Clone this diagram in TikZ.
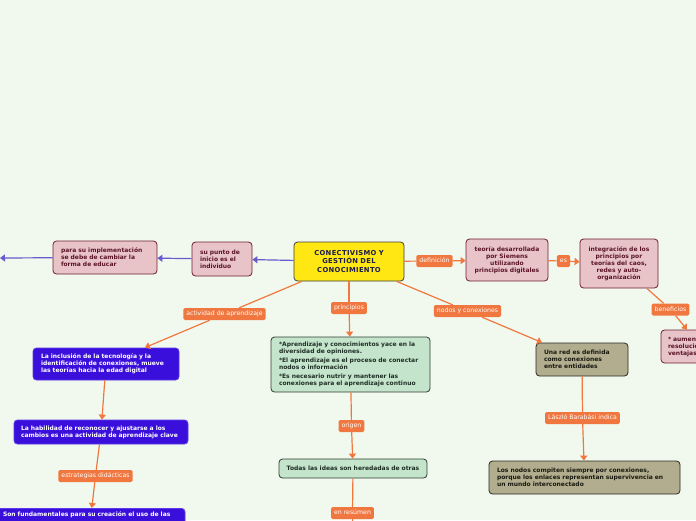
\documentclass[tikz,border=0pt]{standalone}
\usepackage{fontspec}
\setmainfont{DejaVu Sans}
\usetikzlibrary{arrows.meta}
\definecolor{bg}{HTML}{F1F9EE}
\definecolor{oc}{HTML}{F0773F}
\definecolor{bc}{HTML}{6A5ACD}
\definecolor{yl}{HTML}{FFE714}
\definecolor{ylb}{HTML}{3F3F3F}
\definecolor{ylt}{HTML}{1B1B4D}
\definecolor{pk}{HTML}{E8C4C9}
\definecolor{pkb}{HTML}{6E1F30}
\definecolor{pkt}{HTML}{5C1528}
\definecolor{bl}{HTML}{3A0FDB}
\definecolor{blb}{HTML}{5A3AE8}
\definecolor{gr}{HTML}{C4E4CB}
\definecolor{grb}{HTML}{2F3F33}
\definecolor{grt}{HTML}{1F2F25}
\definecolor{ol}{HTML}{B1AD8E}
\definecolor{olb}{HTML}{2A2A20}
\definecolor{olt}{HTML}{1A1A10}
\tikzset{
 lbl/.style={fill=oc, text=white, rounded corners=1.5pt, font=\fontsize{6.2}{7}\selectfont, inner xsep=3pt, inner ysep=0pt, minimum height=12pt, text height=4.6pt, text depth=1.4pt},
 box/.style={rounded corners=3.5pt, line width=0.8pt, font=\bfseries\fontsize{6}{7}\selectfont, inner xsep=8pt, inner ysep=3pt, align=left},
 cbox/.style={box, fill=yl, draw=ylb, text=ylt, align=center, font=\bfseries\fontsize{6.8}{8.5}\selectfont\addfontfeatures{LetterSpace=5}},
 pinkbox/.style={box, fill=pk, draw=pkb, text=pkt},
 bluebox/.style={box, fill=bl, draw=blb, text=white},
 greenbox/.style={box, fill=gr, draw=grb, text=grt},
 olivebox/.style={box, fill=ol, draw=olb, text=olt},
 oline/.style={draw=oc, line width=1.2pt},
 oarr/.style={oline, -{Triangle[width=7pt,length=5pt]}},
 barr/.style={draw=bc, line width=1.2pt, -{Triangle[width=7pt,length=5pt]}},
}
\begin{document}
\begin{tikzpicture}[x=1pt,y=-1pt]
\useasboundingbox (0,0) rectangle (696,520);
\clip (0,0) rectangle (696,520);
\fill[bg] (0,0) rectangle (696,520);

% main nodes
\node[cbox, minimum width=110pt, minimum height=39pt, text width=100pt, inner xsep=5pt] (c) at (349,261.5) {CONECTIVISMO Y\\GESTIÓN DEL\\CONOCIMIENTO};
\node[pinkbox, minimum height=34pt, text width=44pt] (punto) at (222,259) {su punto de\\inicio es el\\individuo};
\node[pinkbox, minimum height=33pt, text width=88pt] (para) at (105,257.5) {para su implementación\\se debe de cambiar la\\forma de educar};
\coordinate (left) at (0,258);
\node[pinkbox, align=center, minimum height=42pt, text width=72pt, inner xsep=5pt] (teoria) at (507,260) {teoría desarrollada\\por Siemens\\utilizando\\principios digitales};
\node[pinkbox, align=center, minimum height=49pt, text width=68pt, inner xsep=5pt] (integ) at (619,263.5) {integración de los\\principios por\\teorías del caos,\\redes y auto-\\organización};
\node[pinkbox, minimum height=33pt, text width=66pt, inner xsep=7pt] (aumen) at (701,346.5) {* aumento\\* resolución\\* ventajas};

\node[bluebox, minimum height=32pt, text width=130pt] (blue1) at (106,364) {La inclusión de la tecnología y la\\identificación de conexiones, mueve\\las teorías hacia la edad digital};
\node[bluebox, minimum height=24pt, text width=160pt, inner xsep=7pt] (blue2) at (101,432) {La habilidad de reconocer y ajustarse a los\\cambios es una actividad de aprendizaje clave};
\node[bluebox, anchor=north, text width=174pt, inner ysep=3.5pt, text depth=18pt] (blue3) at (90,508) {Son fundamentales para su creación el uso de las};

\node[greenbox, minimum height=55pt, text width=143pt] (green1) at (350.5,364.5) {*Aprendizaje y conocimientos yace en la\\diversidad de opiniones.\\[1.8pt]*El aprendizaje es el proceso de conectar\\nodos o información\\[1.8pt]*Es necesario nutrir y mantener las\\conexiones para el aprendizaje continuo};
\node[greenbox, align=center, minimum height=19pt, text width=138pt, inner xsep=5pt] (green2) at (353,468.5) {Todas las ideas son heredadas de otras};
\coordinate (down) at (353,545);

\node[olivebox, minimum height=33pt, text width=76pt] (olive1) at (582,359.5) {Una red es definida\\como conexiones\\entre entidades};
\node[olivebox, minimum height=33pt, text width=175pt] (olive2) at (584.5,477.5) {Los nodos compiten siempre por conexiones,\\porque los enlaces representan supervivencia en\\un mundo interconectado};

% labels
\node[lbl] (def) at (434.5,261) {definición};
\node[lbl] (es) at (563.5,261) {es};
\node[lbl] (benef) at (670.5,309.5) {beneficios};
\node[lbl] (act) at (224.5,314) {actividad de aprendizaje};
\node[lbl] (estr) at (95.5,476) {estrategias didácticas};
\node[lbl] (princ) at (349,308) {principios};
\node[lbl] (orig) at (351.5,426) {origen};
\node[lbl] (enres) at (352.5,513) {en resúmen};
\node[lbl] (nod) at (467.5,311) {nodos y conexiones};
\node[lbl] (lasz) at (582.5,418) {László Barabási indica};

% connectors
\draw[barr] (c) -- (punto);
\draw[barr] (punto) -- (para);
\draw[barr] (para) -- (left);

\draw[oline] (c) -- (def);
\draw[oarr] (def) -- (teoria);
\draw[oline] (teoria) -- (es);
\draw[oarr] (es) -- (integ);
\draw[oline] (integ) -- (benef);
\draw[oarr] (benef) -- (aumen);

\draw[oline] (c) -- (act);
\draw[oarr] (act) -- (blue1);
\draw[oarr] (blue1) -- (blue2);
\draw[oline] (blue2) -- (estr);
\draw[oarr] (estr) -- (blue3);

\draw[oline] (c) -- (princ);
\draw[oarr] (princ) -- (green1);
\draw[oline] (green1) -- (orig);
\draw[oarr] (orig) -- (green2);
\draw[oline] (green2) -- (enres);
\draw[oline] (enres) -- (down);

\draw[oline] (c) -- (nod);
\draw[oarr] (nod) -- (olive1);
\draw[oline] (olive1) -- (lasz);
\draw[oarr] (lasz) -- (olive2);
\end{tikzpicture}
\end{document}
